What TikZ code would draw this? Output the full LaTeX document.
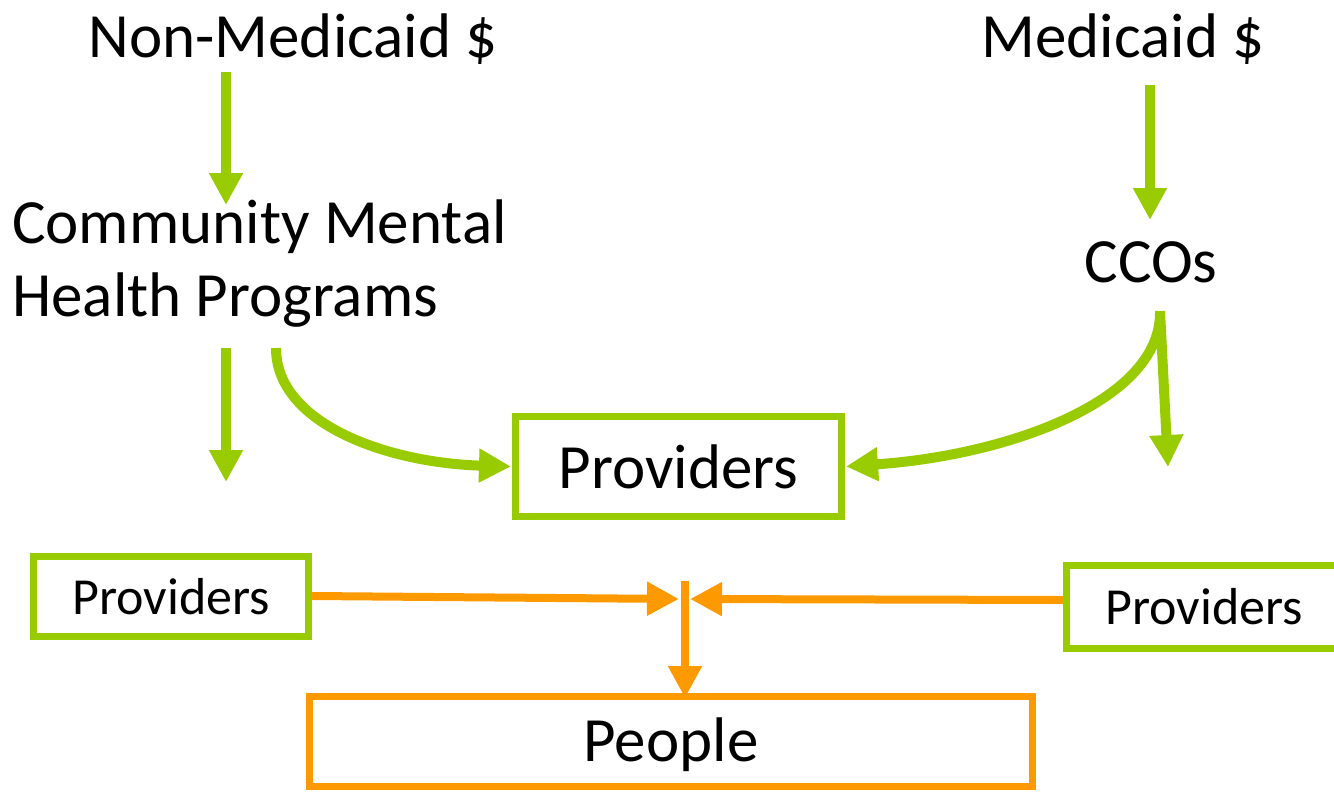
\documentclass[tikz,border=0pt]{standalone}
\usepackage{fontspec}
\setmainfont{Carlito}
\usetikzlibrary{arrows.meta}
\definecolor{lgreen}{HTML}{99CC00}
\definecolor{lorange}{HTML}{FF9900}
\begin{document}
\begin{tikzpicture}[x=1pt,y=-1pt,
  bigtxt/.style={font=\fontsize{63}{73}\selectfont, inner sep=0pt},
  smalltxt/.style={font=\fontsize{52}{60}\selectfont, inner sep=0pt},
  gbox/.style={draw=lgreen, line width=7pt},
  obox/.style={draw=lorange, line width=7pt},
  garrow/.style={draw=lgreen, line width=10pt, -{Triangle[length=32pt,width=32pt]}},
  oarrow/.style={draw=lorange, line width=8pt, -{Triangle[length=32pt,width=32pt]}}]
\useasboundingbox (0,0) rectangle (1334,795);
% texts
\node[bigtxt, anchor=base] (nm) at (293,57) {Non-Medicaid \$};
\node[bigtxt, anchor=base] (med) at (1123,57) {Medicaid \$};
\node[bigtxt, anchor=north west, align=left] (cmhp) at (12,200) {Community Mental\\Health Programs};
\node[bigtxt, anchor=base] (cco) at (1151,282) {CCOs};
% boxes
\node[gbox, bigtxt, minimum width=326pt, minimum height=100pt] (prov) at (678.5,466.5) {Providers};
\node[gbox, smalltxt, minimum width=275pt, minimum height=80pt] (lprov) at (171,596.5) {Providers};
\node[gbox, smalltxt, minimum width=275pt, minimum height=83pt] (rprov) at (1204,607) {Providers};
\node[obox, bigtxt, text depth=4pt, minimum width=723pt, minimum height=90pt] (people) at (671,741.5) {People};
% free ends
\coordinate (a1s) at (226,72);
\coordinate (a1e) at (226,205);
\coordinate (a2s) at (1150,85);
\coordinate (a2e) at (1150,220);
\coordinate (a3s) at (226,348);
\coordinate (a3e) at (226,482);
\coordinate (c1s) at (276,348);
\coordinate (c2s) at (1160,311);
\coordinate (a4e) at (1168,467);
\coordinate (jl) at (679,599);
\coordinate (jr) at (690,599);
\coordinate (jt) at (685,581);
% green arrows
\draw[garrow] (a1s) -- (a1e);
\draw[garrow] (a2s) -- (a2e);
\draw[garrow] (a3s) -- (a3e);
\draw[garrow] (c1s) .. controls (276,425) and (390,463) .. ([xshift=-1pt]prov.west);
\draw[garrow] (c2s) .. controls (1162,400) and (1010,455) .. ([xshift=1pt]prov.east);
\draw[garrow] (c2s) -- (a4e);
% orange arrows
\draw[oarrow] (lprov.east |- 0,596) -- (jl);
\draw[oarrow] (rprov.west |- 0,600) -- (jr);
\draw[oarrow] (jt) -- ([yshift=-5pt]jt |- people.north);
\end{tikzpicture}
\end{document}
